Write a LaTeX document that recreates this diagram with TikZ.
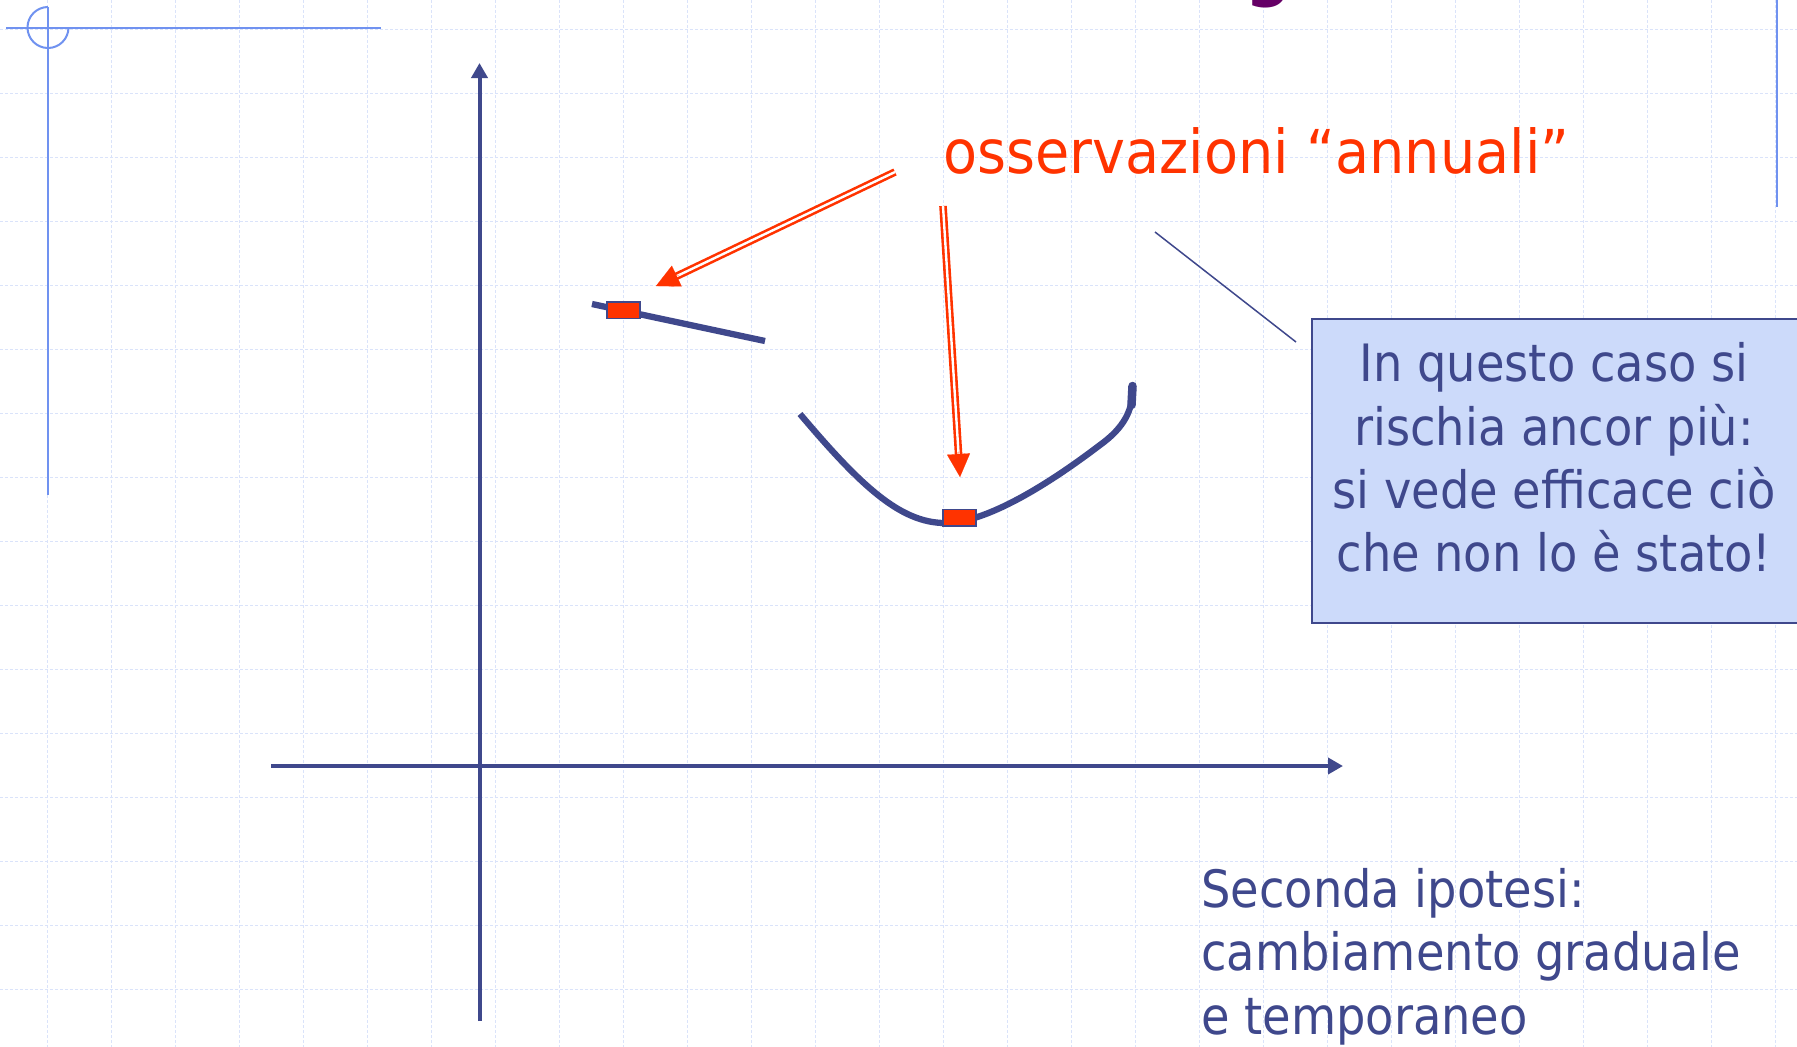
\documentclass[tikz,border=0pt]{standalone}
\usepackage{fontspec}
\newfontfamily\slidefont[FakeStretch=0.9]{DejaVu Sans}
\newfontfamily\labelfont[FakeStretch=0.92]{DejaVu Sans}
\usetikzlibrary{arrows.meta,calc}

\definecolor{axisblue}{RGB}{63,72,140}
\definecolor{markred}{RGB}{255,51,0}
\definecolor{gridblue}{RGB}{218,227,250}
\definecolor{frameblue}{RGB}{112,146,240}
\definecolor{boxfill}{RGB}{204,218,250}
\definecolor{titlepurple}{RGB}{102,0,102}

\tikzset{
  gridline/.style={gridblue, line width=1pt, dash pattern=on 3pt off 2pt},
  frameline/.style={frameblue, line width=2pt},
  axisline/.style={axisblue, line width=4pt, -{Triangle[length=15pt,width=16pt]}},
  trend/.style={axisblue, line width=6.3pt},
  obsmark/.style={rectangle, fill=markred, draw=axisblue, line width=1.5pt,
    minimum width=33pt, minimum height=16.5pt, inner sep=0pt},
  hollowshaft/.style={draw=markred, line width=2.6pt, double=white,
    double distance=2.4pt, shorten >=21pt},
  hollowhead/.style={markred, line width=0.1pt, -{Triangle[length=23pt,width=23pt]}},
  leader/.style={axisblue, line width=1.5pt},
  callout/.style={draw=axisblue, fill=boxfill, line width=1.5pt, anchor=north west,
    minimum width=520pt, minimum height=304pt, inner sep=0pt},
  boxline/.style={text=axisblue, font=\slidefont\fontsize{51.5pt}{63pt}\selectfont,
    anchor=base, inner sep=0pt},
  noteline/.style={text=axisblue, font=\slidefont\fontsize{51.5pt}{63pt}\selectfont,
    anchor=base west, inner sep=0pt},
  redlabel/.style={text=markred, font=\labelfont\fontsize{60.5pt}{72pt}\selectfont,
    anchor=base west, inner sep=0pt}
}

\begin{document}
\begin{tikzpicture}[x=1pt,y=-1pt]
\useasboundingbox (0,0) rectangle (1797,1047);
\fill[white] (0,0) rectangle (1797,1047);

% squared paper background
\foreach \gx in {0,...,27}
  \draw[gridline] ({47+64*\gx},0) -- ({47+64*\gx},1047);
\foreach \gy in {0,...,15}
  \draw[gridline] (0,{29+64*\gy}) -- (1797,{29+64*\gy});

% slide frame ornaments
\draw[frameline] (6,27.5) -- (381,27.5);
\draw[frameline] (48,7) -- (48,495);
\draw[frameline] (68.5,27.5) arc[start angle=0, end angle=270, radius=20.5];
\draw[frameline] (1777,0) -- (1777,207);

% descender of the slide title
\node[text=titlepurple, font=\slidefont\bfseries\fontsize{72pt}{80pt}\selectfont,
  anchor=base, inner sep=0pt] (titleg) at (1269,-8) {g};

% axes
\coordinate (xorig) at (271,766);
\coordinate (xend) at (1343,766);
\coordinate (yorig) at (479.5,1021);
\coordinate (yend) at (479.5,63);
\draw[axisline] (xorig) -- (xend);
\draw[axisline] (yorig) -- (yend);

% trend before the change
\coordinate (s1a) at (592,304);
\coordinate (s1b) at (765,341);
\draw[trend] (s1a) -- (s1b);

% gradual, temporary change
\coordinate (c0) at (800,414);
\coordinate (c1) at (945,523);
\coordinate (c2) at (1100,445);
\coordinate (c3) at (1133,390);
\draw[trend] (c0) .. controls (860,485) and (900,523) .. (c1)
                  .. controls (990,523) and (1058,477) .. (c2)
                  .. controls (1125,427) and (1132,410) .. (c3);
\draw[axisblue, line width=8.5pt, line cap=round] (1132.5,386) -- (1131.5,405);

% yearly observations
\node[obsmark] (m1) at (623.5,310) {};
\node[obsmark] (m2) at (959.5,517.5) {};

% label and its hollow arrows
\node[redlabel] (obs) at (943,173) {osservazioni “annuali”};
\coordinate (a1s) at (895,172);
\coordinate (a1t) at (656,286);
\coordinate (a2s) at (943,206);
\coordinate (a2t) at (960,477);
\draw[hollowshaft] (a1s) -- (a1t);
\draw[hollowhead] ($(a1t)!26pt!(a1s)$) -- (a1t);
\draw[hollowshaft] (a2s) -- (a2t);
\draw[hollowhead] ($(a2t)!26pt!(a2s)$) -- (a2t);

% comment box with its leader line
\coordinate (l1) at (1155,232);
\coordinate (l2) at (1296,342);
\draw[leader] (l1) -- (l2);
\node[callout] (note) at (1311,318) {};
\node[boxline] (n1) at (1554,381.7) {In questo caso si};
\node[boxline] (n2) at (1554,445) {rischia ancor più:};
\node[boxline] (n3) at (1554,508.3) {si vede efficace ciò};
\node[boxline] (n4) at (1554,571.7) {che non lo è stato!};

% hypothesis caption
\node[noteline] (h1) at (1201,907) {Seconda ipotesi:};
\node[noteline] (h2) at (1201,970.5) {cambiamento graduale};
\node[noteline] (h3) at (1201,1034) {e temporaneo};
\end{tikzpicture}
\end{document}
